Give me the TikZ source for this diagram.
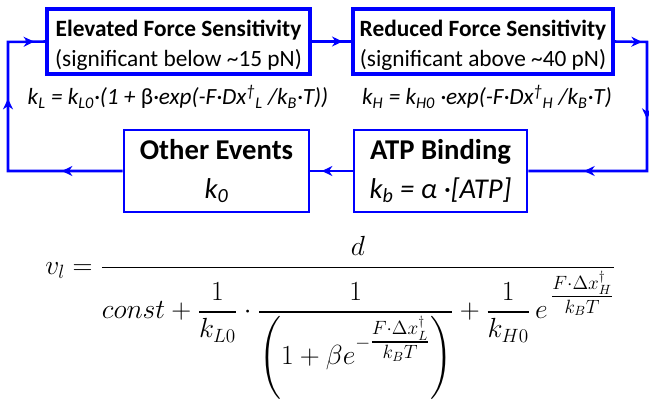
\documentclass[tikz,border=0pt]{standalone}
\usepackage{amsmath}
\usepackage{fontspec}
\setmainfont{Carlito}
\usetikzlibrary{arrows.meta,positioning,decorations.markings}
\definecolor{loopblue}{HTML}{0000FF}

\begin{document}
\begin{tikzpicture}[x=0.75pt,y=-0.75pt,>=Stealth,
  wire/.style={loopblue,line width=1.9pt},
  headat/.style={postaction={decorate,decoration={markings,
      mark=at position #1 with {\arrow{Stealth[length=8pt,width=7.5pt]}}}}},
  sensebox/.style={draw=loopblue,line width=3pt,align=center,inner sep=0pt,
      minimum height=48.75pt,font=\fontsize{17.5}{23}\selectfont},
  stepbox/.style={draw=loopblue,line width=1.9pt,align=center,inner sep=0pt,
      minimum height=61.5pt,font=\fontsize{21.5}{29}\selectfont},
  rate/.style={font=\fontsize{17.4}{20}\selectfont\itshape}]
\useasboundingbox (0,0) rectangle (649,403);
% force sensitive states
\node[sensebox,minimum width=197.25pt] (elev) at (178.5,41.5)
  {\rule{0pt}{18pt}\textbf{Elevated Force Sensitivity}\\(significant below \textasciitilde 15 pN)};
\node[sensebox,minimum width=195pt] (red) at (483,41.5)
  {\rule{0pt}{18pt}\textbf{Reduced Force Sensitivity}\\(significant above \textasciitilde 40 pN)};
\node[rate] (kl) at (178,97)
  {k\textsubscript{L} = k\textsubscript{L0}·(1 + {\upshape β}·exp(-F·Dx\textsuperscript{†}\textsubscript{L} /k\textsubscript{B}·T))};
\node[rate] (kh) at (487,97)
  {k\textsubscript{H} = k\textsubscript{H0} ·exp(-F·Dx\textsuperscript{†}\textsubscript{H} /k\textsubscript{B}·T)};
% other steps
\node[stepbox,minimum width=138.75pt] (other) at (216.5,171)
  {\textbf{Other Events}\\\textit{k\textsubscript{0}}};
\node[stepbox,minimum width=129.75pt] (atp) at (440.5,171)
  {\textbf{ATP Binding}\\\textit{k\textsubscript{b} = α ·[ATP]}};
% loop
\coordinate (tl) at (8,42);
\coordinate (bl) at (8,171);
\coordinate (tr) at (647,42);
\coordinate (br) at (647,171);
\draw[wire,headat=23pt] (elev) -- (red);
\draw[wire,line join=miter,headat=20.25pt,headat=81.75pt,headat=168pt] (red.east) -- (tr) -- (br) -- (atp.east);
\draw[wire,headat=23.25pt] (atp) -- (other);
\draw[wire,line join=miter,headat=45.75pt,headat=140.25pt,headat=202.5pt] (other.west) -- (bl) -- (tl) -- (elev.west);
% velocity
\node[anchor=base west,inner sep=0pt,font=\fontsize{19.4}{24}\selectfont] (vel) at (45,274)
  {$v_l = \dfrac{d}{\rule{0pt}{33pt}const + \dfrac{1}{k_{L0}}\cdot\dfrac{1}{\left(\rule[-22pt]{0pt}{34pt}1+\beta e^{-\tfrac{F\cdot\Delta x_L^{\dagger}}{k_BT}}\right)} + \dfrac{1}{k_{H0}}\,e^{\,\tfrac{F\cdot\Delta x_H^{\dagger}}{k_BT}}}$};
\end{tikzpicture}
\end{document}
